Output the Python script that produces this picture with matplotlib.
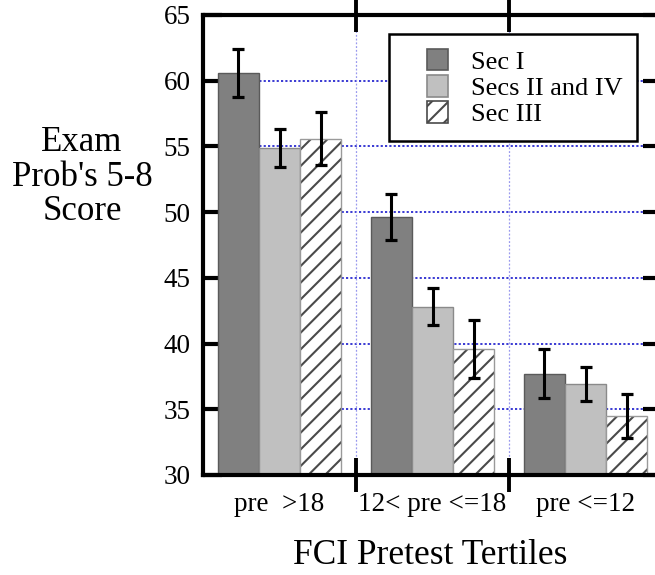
import matplotlib
matplotlib.use("Agg")
import matplotlib.pyplot as plt
from matplotlib.patches import Rectangle, Patch
from matplotlib.legend_handler import HandlerPatch
import numpy as np

categories = ["pre  >18", "12< pre <=18", "pre <=12"]
series_names = ["Sec I", "Secs II and IV", "Sec III"]
sec1 = [60.6, 49.6, 37.7]
sec1_err = [1.85, 1.75, 1.85]
sec24 = [54.9, 42.8, 36.9]
sec24_err = [1.45, 1.4, 1.3]
sec3 = [55.6, 39.6, 34.5]
sec3_err = [2.0, 2.2, 1.65]
yticks = [30, 35, 40, 45, 50, 55, 60, 65]

plt.rcParams['font.family'] = ['Liberation Serif', 'DejaVu Serif']
plt.rcParams['hatch.linewidth'] = 1.5

fig = plt.figure(figsize=(6.55, 5.75), dpi=100)
ax = fig.add_axes([203/655, 1-475/575, 459/655, 460/575])

x = np.arange(len(categories))
w = 0.268
styles = [
    dict(color="#808080", edgecolor="#5a5a5a", hatch=None, hatchcolor=None),
    dict(color="#c0c0c0", edgecolor="#8a8a8a", hatch=None, hatchcolor=None),
    dict(color="white", edgecolor="#9a9a9a", hatch="//", hatchcolor="#4a4a4a"),
]
data = [(sec1, sec1_err), (sec24, sec24_err), (sec3, sec3_err)]
for i, ((vals, errs), st) in enumerate(zip(data, styles)):
    pos = x + (i-1)*w
    if st["hatch"]:
        ax.bar(pos, vals, w, bottom=0, color=st["color"], edgecolor=st["hatchcolor"],
               hatch=st["hatch"], linewidth=0, zorder=2)
        ax.bar(pos, vals, w, bottom=0, fill=False, edgecolor=st["edgecolor"],
               linewidth=1.0, zorder=2.1)
    else:
        ax.bar(pos, vals, w, bottom=0, color=st["color"], edgecolor=st["edgecolor"],
               linewidth=1.0, zorder=2)
    ax.errorbar(pos, vals, yerr=errs, fmt='none', ecolor='black', elinewidth=2.2,
                capsize=4, capthick=2.3, zorder=3)

ax.set_ylim(30, 65)
ax.set_xlim(-0.5, 2.5)
ax.set_yticks(yticks)
ax.set_xticks([0.5, 1.5])
ax.set_xticklabels([])
ax.set_xticks(x, minor=True)
ax.set_xticklabels(categories, minor=True, fontsize=19.5)
ax.tick_params(axis='x', which='minor', length=0, pad=12)
ax.tick_params(axis='x', which='major', direction='inout', length=24, width=2.8, top=True)
ax.tick_params(axis='y', which='major', direction='in', length=14, width=3, right=True,
               labelsize=19.5, pad=9)

for sp in ax.spines.values():
    sp.set_linewidth(3)

for yv in yticks[1:-1]:
    ax.axhline(yv, color='#2a2ad0', linestyle=(0, (1.2, 1.2)), linewidth=1.3, zorder=1)
for xv in [0.5, 1.5]:
    ax.axvline(xv, color='#9999ee', linestyle=(0, (1.5, 1.5)), linewidth=0.9, zorder=1)

fig.text(82/655, 1-177/575, "Exam\nProb's 5-8\nScore", ha='center', va='center',
         fontsize=25, linespacing=1.05)
fig.text(430/655, 1-556/575, "FCI Pretest Tertiles", ha='center', va='center', fontsize=25.5)


def square_right(legend, orig_handle, xdescent, ydescent, width, height, fontsize):
    s = height
    return Rectangle((width - s - xdescent, -ydescent), s, s)

patches = []
for st in styles:
    if st["hatch"]:
        patches.append(Patch(facecolor=st["color"], edgecolor=st["hatchcolor"], hatch=st["hatch"],
                             linewidth=1.2))
    else:
        patches.append(Patch(facecolor=st["color"], edgecolor=st["edgecolor"], linewidth=1.2))
leg = ax.legend(patches, series_names, loc='upper right', bbox_to_anchor=(637/655, 1-34/575),
                bbox_transform=fig.transFigure, fontsize=19, frameon=True, fancybox=False,
                edgecolor='black', framealpha=1, borderpad=0.55, labelspacing=0.05,
                handlelength=1.7, handleheight=0.9, handletextpad=0.85, borderaxespad=0,
                handler_map={Patch: HandlerPatch(patch_func=square_right)})
leg.get_frame().set_linewidth(1.8)
leg.set_zorder(5)

fig.savefig("out.png", dpi=100)
